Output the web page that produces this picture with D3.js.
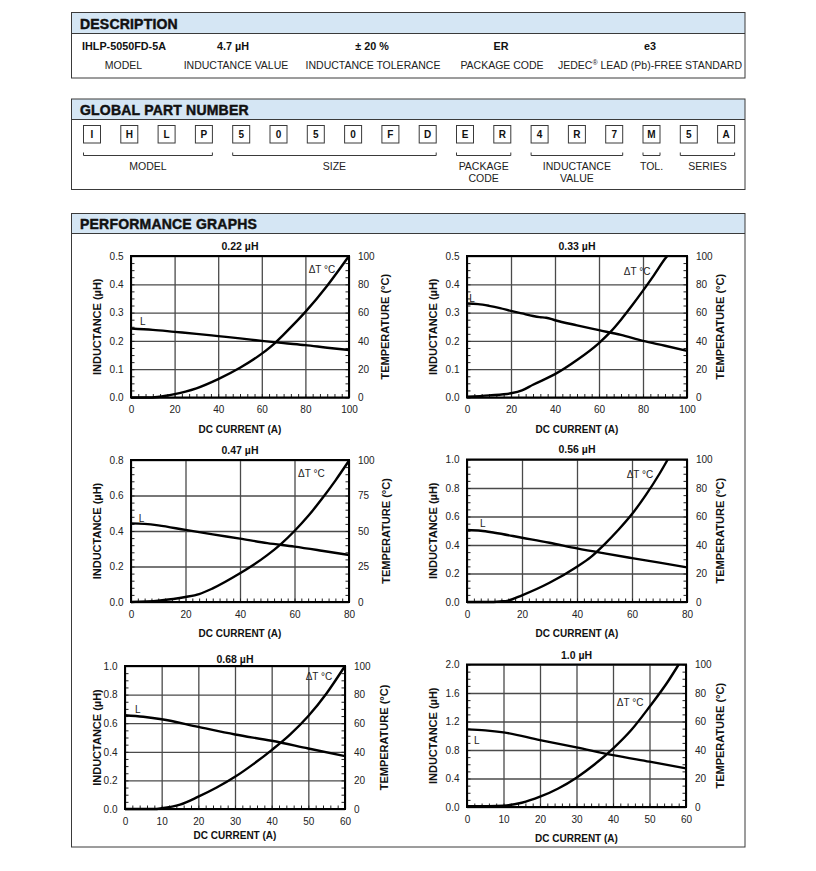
<!DOCTYPE html>
<html><head><meta charset="utf-8">
<script src="https://cdn.jsdelivr.net/npm/d3@7"></script>
<style>
body{margin:0;background:#fff;}
svg{display:block;font-family:"Liberation Sans",Arial,Helvetica,sans-serif;}
</style></head><body><svg id="c" width="816" height="871"></svg>
<script>
// ---------------- DATA ----------------
const descValues = ["IHLP-5050FD-5A", "4.7 µH", "± 20 %", "ER", "e3"];
const descLabels = ["MODEL", "INDUCTANCE VALUE", "INDUCTANCE TOLERANCE", "PACKAGE CODE", "JEDEC® LEAD (Pb)-FREE STANDARD"];
const partChars = ["I","H","L","P","5","0","5","0","F","D","E","R","4","R","7","M","5","A"];
const partGroupLabels = [["MODEL"], ["SIZE"], ["PACKAGE","CODE"], ["INDUCTANCE","VALUE"], ["TOL."], ["SERIES"]];
const partGroupSpans = [[0,3],[4,9],[10,11],[12,14],[15,15],[16,17]];

const chartTitles = ["0.22 µH", "0.33 µH", "0.47 µH", "0.56 µH", "0.68 µH", "1.0 µH"];
const currentTicks = [
  [0,20,40,60,80,100],[0,20,40,60,80,100],[0,20,40,60,80],[0,20,40,60,80],
  [0,10,20,30,40,50,60],[0,10,20,30,40,50,60]];
const inductanceTicks = [
  [0,0.1,0.2,0.3,0.4,0.5],[0,0.1,0.2,0.3,0.4,0.5],[0,0.2,0.4,0.6,0.8],
  [0,0.2,0.4,0.6,0.8,1.0],[0,0.2,0.4,0.6,0.8,1.0],[0,0.4,0.8,1.2,1.6,2.0]];
const temperatureTicks = [
  [0,20,40,60,80,100],[0,20,40,60,80,100],[0,25,50,75,100],
  [0,20,40,60,80,100],[0,20,40,60,80,100],[0,20,40,60,80,100]];

const inductanceCurves = [
  [[0,0.244],[10,0.239],[20,0.232],[30,0.225],[40,0.217],[50,0.209],[60,0.200],[70,0.192],[80,0.185],[90,0.176],[100,0.168]],
  [[0,0.332],[5,0.330],[10,0.324],[15,0.316],[20,0.306],[25,0.297],[30,0.288],[33,0.284],[36,0.282],[40,0.273],[50,0.255],[60,0.238],[70,0.221],[80,0.200],[90,0.183],[100,0.165]],
  [[0,0.443],[5,0.440],[10,0.432],[20,0.406],[30,0.381],[40,0.357],[50,0.332],[60,0.312],[70,0.289],[80,0.265]],
  [[0,0.505],[5,0.500],[10,0.486],[20,0.451],[30,0.416],[40,0.376],[50,0.341],[60,0.308],[70,0.276],[80,0.243]],
  [[0,0.656],[5,0.645],[10,0.628],[20,0.574],[30,0.521],[40,0.477],[50,0.423],[60,0.370]],
  [[0,1.089],[5,1.075],[10,1.047],[20,0.939],[30,0.836],[40,0.729],[50,0.636],[60,0.542]]
];
const temperatureCurves = [
  [[0,0],[8,0],[12,0.4],[16,1.2],[20,2.4],[25,4.2],[30,6.5],[40,13],[50,21],[60,31],[66,38.5],[70,44.5],[80,60.5],[90,79],[100,100]],
  [[0,0.5],[10,1.5],[20,3],[25,5],[30,9],[40,16.5],[50,26.5],[60,38.5],[65,46],[70,55],[75,65],[80,75.5],[85,86.5],[90,98],[91,100]],
  [[0,0],[10,1],[20,3.5],[25,5.6],[30,9.6],[40,20.2],[45,26.2],[50,33],[55,40.8],[60,50],[65,60.5],[70,72.5],[75,85.5],[80,99.5]],
  [[0,0],[8,0],[12,0.4],[15,1],[20,4.7],[30,13.5],[40,24.8],[45,31.5],[50,40.5],[55,50.5],[60,61.7],[65,75],[70,90],[73,100]],
  [[0,0],[8,0],[10,0.5],[15,3],[20,8.6],[25,15],[30,22.5],[35,31.4],[40,41.2],[45,52],[50,65],[55,81],[60,100]],
  [[0,0.5],[10,1],[15,3],[20,7.2],[25,13],[30,20.6],[35,30],[40,41],[45,54],[50,70.3],[55,87.9],[58,100]]
];
// curve label anchors in data units: [current, inductance] and [current, temperature]
const lLabelAt = [[5.4,0.256],[2.3,0.339],[3.9,0.452],[5.7,0.523],[3.5,0.672],[2.7,0.879]];
const tLabelAt = [[87.6,87.8],[77.3,86.6],[66.2,87.8],[62.9,86.7],[52.9,90.5],[44.7,71]];

// ---------------- LAYOUT ----------------
const layout = [
  {x0:131,x1:349,y0:256,y1:397.5,lt:96.5,rt:385,td:-6.3,xt:35.5,xm:6,ym:4},
  {x0:467,x1:687,y0:256,y1:397.5,lt:432.5,rt:720,td:-6.3,xt:35.5,xm:6,ym:4},
  {x0:131,x1:349,y0:460,y1:602,lt:96.5,rt:386,td:-6.3,xt:35,xm:8,ym:5},
  {x0:467,x1:687,y0:459.5,y1:602,lt:432.5,rt:720,td:-6.3,xt:35,xm:8,ym:4},
  {x0:125,x1:345,y0:666,y1:809,lt:97,rt:384,td:-3.5,xt:30,xm:5,ym:4},
  {x0:467,x1:686,y0:664.5,y1:807,lt:432.5,rt:720,td:-6,xt:34.5,xm:5,ym:4}
];
const BLUE = "#d5e6f4", EDGE = "#3a3a3a";
const svg = d3.select("#c");

function section(y0, y1, hb, title, ty){
  svg.append("rect").attr("x",71.5).attr("y",y0).attr("width",673.5).attr("height",hb-y0)
    .attr("fill",BLUE);
  svg.append("rect").attr("x",71.5).attr("y",y0).attr("width",673.5).attr("height",y1-y0)
    .attr("fill","none").attr("stroke",EDGE).attr("stroke-width",1);
  svg.append("line").attr("x1",71.5).attr("x2",745).attr("y1",hb).attr("y2",hb)
    .attr("stroke",EDGE).attr("stroke-width",1);
  svg.append("text").attr("x",80).attr("y",ty).text(title)
    .attr("font-size",14).attr("font-weight","bold").attr("fill","#111")
    .attr("stroke","#111").attr("stroke-width",0.45).attr("letter-spacing",0.2);
}

// DESCRIPTION
section(12.5, 78, 33.5, "DESCRIPTION", 29);
const descCx = [124, 233, 372, 501, 650];
const descLx = [123.5, 236, 373, 502, 650];
descValues.forEach((v,i)=>{
  svg.append("text").attr("x",descCx[i]).attr("y",49.5).attr("text-anchor","middle")
    .attr("font-size",10.8).attr("font-weight","bold").attr("fill","#111").text(v);
});
descLabels.forEach((v,i)=>{
  const t = svg.append("text").attr("x",descLx[i]).attr("y",68.5).attr("text-anchor","middle")
    .attr("font-size",10.5).attr("fill","#222");
  if (v.indexOf("®")>=0){
    const parts = v.split("®");
    t.append("tspan").text(parts[0]);
    t.append("tspan").attr("font-size",7).attr("dy",-4).text("®");
    t.append("tspan").attr("dy",4).text(parts[1]);
  } else t.text(v);
});

// GLOBAL PART NUMBER
section(99, 189.5, 119.5, "GLOBAL PART NUMBER", 114.5);
const boxW = 17, boxStep = 37.3, box0 = 83;
partChars.forEach((c,i)=>{
  const x = box0 + i*boxStep;
  svg.append("rect").attr("x",x+0.5).attr("y",125.5).attr("width",boxW).attr("height",17.5)
    .attr("fill","#fff").attr("stroke",EDGE).attr("stroke-width",1);
  svg.append("text").attr("x",x+0.5+boxW/2).attr("y",138).attr("text-anchor","middle")
    .attr("font-size",10).attr("font-weight","bold").attr("fill","#111").text(c);
});
partGroupSpans.forEach((s,i)=>{
  const xa = box0 + s[0]*boxStep + 0.5, xb = box0 + s[1]*boxStep + boxW + 0.5;
  svg.append("path").attr("d",`M${xa},152.5V155.5H${xb}V152.5`).attr("fill","none")
    .attr("stroke",EDGE).attr("stroke-width",1);
  partGroupLabels[i].forEach((l,j)=>{
    svg.append("text").attr("x",(xa+xb)/2).attr("y",169.5+j*12).attr("text-anchor","middle")
      .attr("font-size",10.5).attr("fill","#222").text(l);
  });
});

// PERFORMANCE GRAPHS
section(213.5, 847, 233.5, "PERFORMANCE GRAPHS", 229);

const fmtL = d3.format(".1f"), fmtT = d3.format("d");
layout.forEach((L,i)=>{
  const xMax = currentTicks[i][currentTicks[i].length-1];
  const lMax = inductanceTicks[i][inductanceTicks[i].length-1];
  const tMax = temperatureTicks[i][temperatureTicks[i].length-1];
  const x = d3.scaleLinear().domain([0,xMax]).range([L.x0,L.x1]);
  const yL = d3.scaleLinear().domain([0,lMax]).range([L.y1,L.y0]);
  const yT = d3.scaleLinear().domain([0,tMax]).range([L.y1,L.y0]);
  const w = L.x1-L.x0, h = L.y1-L.y0;
  const g = svg.append("g");

  // gridlines
  g.append("g").attr("transform",`translate(0,${L.y1})`)
    .call(d3.axisBottom(x).tickValues(currentTicks[i]).tickSize(-h).tickFormat(""))
    .call(s=>{s.select(".domain").remove(); s.selectAll("line").attr("stroke","#4a4a4a").attr("stroke-width",1.3);});
  g.append("g").attr("transform",`translate(${L.x0},0)`)
    .call(d3.axisLeft(yL).tickValues(inductanceTicks[i]).tickSize(-w).tickFormat(""))
    .call(s=>{s.select(".domain").remove(); s.selectAll("line").attr("stroke","#4a4a4a").attr("stroke-width",1.3);});

  // minor ticks
  const xStep = (currentTicks[i][1]-currentTicks[i][0])/L.xm;
  const lStep = (inductanceTicks[i][1]-inductanceTicks[i][0])/L.ym;
  const tStep = (temperatureTicks[i][1]-temperatureTicks[i][0])/L.ym;
  const minorStyle = s=>{s.select(".domain").remove(); s.selectAll("line").attr("stroke","#222").attr("stroke-width",1);};
  g.append("g").attr("transform",`translate(0,${L.y1})`)
    .call(d3.axisBottom(x).tickValues(d3.range(0,xMax+1e-9,xStep)).tickSize(-3.5).tickFormat("")).call(minorStyle);
  g.append("g").attr("transform",`translate(${L.x0},0)`)
    .call(d3.axisLeft(yL).tickValues(d3.range(0,lMax+1e-9,lStep)).tickSize(-3.5).tickFormat("")).call(minorStyle);
  g.append("g").attr("transform",`translate(${L.x1},0)`)
    .call(d3.axisRight(yT).tickValues(d3.range(0,tMax+1e-9,tStep)).tickSize(-3.5).tickFormat("")).call(minorStyle);

  // frame
  g.append("rect").attr("x",L.x0).attr("y",L.y0).attr("width",w).attr("height",h)
    .attr("fill","none").attr("stroke","#000").attr("stroke-width",2);

  // tick labels
  const lab = s=>{s.select(".domain").remove(); s.selectAll("text").attr("font-size",10).attr("fill","#222")
     .attr("font-family","'Liberation Sans',Arial,sans-serif");};
  g.append("g").attr("transform",`translate(${L.x0},0)`)
    .call(d3.axisLeft(yL).tickValues(inductanceTicks[i]).tickSize(0).tickPadding(7.5).tickFormat(fmtL)).call(lab);
  g.append("g").attr("transform",`translate(${L.x1},0)`)
    .call(d3.axisRight(yT).tickValues(temperatureTicks[i]).tickSize(0).tickPadding(9).tickFormat(fmtT)).call(lab);
  const xa = g.append("g").attr("transform",`translate(0,${L.y1})`)
    .call(d3.axisBottom(x).tickValues(currentTicks[i]).tickSize(0).tickPadding(8).tickFormat(fmtT)).call(lab);
  xa.selectAll("text").attr("dy",null).attr("y",15.5);

  // curves
  const lineL = d3.line().x(d=>x(d[0])).y(d=>yL(d[1])).curve(d3.curveMonotoneX);
  const lineT = d3.line().x(d=>x(d[0])).y(d=>yT(d[1])).curve(d3.curveMonotoneX);
  g.append("path").attr("d",lineL(inductanceCurves[i])).attr("fill","none").attr("stroke","#000")
    .attr("stroke-width",2.4).attr("stroke-linejoin","round");
  g.append("path").attr("d",lineT(temperatureCurves[i])).attr("fill","none").attr("stroke","#000")
    .attr("stroke-width",2.4).attr("stroke-linejoin","round");

  // curve labels
  g.append("text").attr("x",x(lLabelAt[i][0])).attr("y",yL(lLabelAt[i][1])).attr("text-anchor","middle")
    .attr("font-size",10).attr("fill","#222").text("L");
  g.append("text").attr("x",x(tLabelAt[i][0])).attr("y",yT(tLabelAt[i][1])).attr("text-anchor","middle")
    .attr("font-size",10).attr("fill","#222").text("ΔT °C");

  // titles
  g.append("text").attr("x",(L.x0+L.x1)/2).attr("y",L.y0+L.td).attr("text-anchor","middle")
    .attr("font-size",10.5).attr("font-weight","bold").attr("fill","#111").text(chartTitles[i]);
  g.append("text").attr("x",(L.x0+L.x1)/2).attr("y",L.y1+L.xt).attr("text-anchor","middle")
    .attr("font-size",10).attr("font-weight","bold").attr("fill","#111").text("DC CURRENT (A)");
  const cy = (L.y0+L.y1)/2;
  g.append("text").attr("transform",`translate(${L.lt+4},${cy}) rotate(-90)`).attr("text-anchor","middle")
    .attr("font-size",11).attr("font-weight","bold").attr("fill","#111").text("INDUCTANCE (µH)");
  g.append("text").attr("transform",`translate(${L.rt+4},${cy}) rotate(-90)`).attr("text-anchor","middle")
    .attr("font-size",11).attr("font-weight","bold").attr("fill","#111").text("TEMPERATURE (°C)");
});
</script></body></html>
